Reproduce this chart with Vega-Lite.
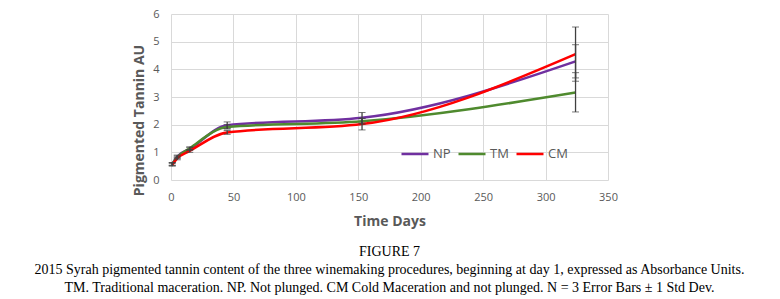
{
  "$schema": "https://vega.github.io/schema/vega-lite/v6.json",
  "width": 437,
  "height": 166,
  "autosize": {"type": "none"},
  "padding": {"left": 171, "top": 14, "right": 172, "bottom": 119},
  "background": "white",
  "title": {
    "text": ["FIGURE 7", "2015 Syrah pigmented tannin content of the three winemaking procedures, beginning at day 1, expressed as Absorbance Units.", "TM. Traditional maceration. NP. Not plunged. CM Cold Maceration and not plunged. N = 3 Error Bars ± 1 Std Dev."],
    "orient": "bottom",
    "anchor": "middle",
    "frame": "group",
    "font": "Liberation Serif",
    "fontSize": 14,
    "fontWeight": "normal",
    "color": "#000000",
    "lineHeight": 18,
    "offset": 17
  },
  "config": {
    "view": {"stroke": null},
    "axis": {
      "gridColor": "#d9d9d9",
      "gridWidth": 1,
      "domain": false,
      "ticks": false,
      "labelColor": "#595959",
      "labelFont": "Open Sans",
      "labelFontSize": 11,
      "labelOverlap": false,
      "labelFlush": false,
      "titleColor": "#595959",
      "titleFont": "Open Sans",
      "titleFontSize": 14,
      "titleFontWeight": "bold"
    }
  },
  "datasets": {
    "pts": [
      {"series": "NP", "day": 1, "value": 0.58, "lo": 0.53, "hi": 0.63},
      {"series": "NP", "day": 5, "value": 0.85, "lo": 0.8, "hi": 0.9},
      {"series": "NP", "day": 15, "value": 1.12, "lo": 1.07, "hi": 1.17},
      {"series": "NP", "day": 45, "value": 1.98, "lo": 1.86, "hi": 2.1},
      {"series": "NP", "day": 153, "value": 2.25, "lo": 2.06, "hi": 2.44},
      {"series": "NP", "day": 324, "value": 4.29, "lo": 3.69, "hi": 4.89},
      {"series": "TM", "day": 1, "value": 0.58, "lo": 0.53, "hi": 0.63},
      {"series": "TM", "day": 5, "value": 0.82, "lo": 0.77, "hi": 0.87},
      {"series": "TM", "day": 15, "value": 1.15, "lo": 1.1, "hi": 1.2},
      {"series": "TM", "day": 45, "value": 1.92, "lo": 1.84, "hi": 2.0},
      {"series": "TM", "day": 153, "value": 2.12, "lo": 2.02, "hi": 2.22},
      {"series": "TM", "day": 324, "value": 3.16, "lo": 2.46, "hi": 3.88},
      {"series": "CM", "day": 1, "value": 0.55, "lo": 0.5, "hi": 0.6},
      {"series": "CM", "day": 5, "value": 0.78, "lo": 0.73, "hi": 0.83},
      {"series": "CM", "day": 15, "value": 1.05, "lo": 1.0, "hi": 1.1},
      {"series": "CM", "day": 45, "value": 1.72, "lo": 1.65, "hi": 1.79},
      {"series": "CM", "day": 153, "value": 2.02, "lo": 1.81, "hi": 2.23},
      {"series": "CM", "day": 324, "value": 4.55, "lo": 3.57, "hi": 5.53}
    ]
  },
  "data": {"name": "pts"},
  "layer": [
    {
      "mark": {"type": "line", "interpolate": "monotone", "strokeWidth": 2.5},
      "encoding": {
        "x": {"field": "day", "type": "quantitative", "title": "Time Days",
              "scale": {"domain": [0, 350], "nice": false},
              "axis": {"values": [0, 50, 100, 150, 200, 250, 300, 350], "labelPadding": 11, "titlePadding": 12}},
        "y": {"field": "value", "type": "quantitative", "title": "Pigmented Tannin AU",
              "scale": {"domain": [0, 6], "nice": false},
              "axis": {"values": [0, 1, 2, 3, 4, 5, 6], "labelPadding": 12, "titlePadding": 6, "titleY": 106}},
        "color": {"field": "series", "type": "nominal",
                  "scale": {"domain": ["NP", "TM", "CM"], "range": ["#7030a0", "#4f8a2e", "#ff0000"]},
                  "legend": {"orient": "none", "legendX": 229, "legendY": 125, "direction": "horizontal", "title": null,
                             "symbolType": "stroke", "symbolSize": 729, "symbolStrokeWidth": 2.5,
                             "labelFont": "Open Sans", "labelFontSize": 13, "labelColor": "#595959",
                             "labelOffset": 3, "columnPadding": 2}},
        "order": {"field": "day"}
      }
    },
    {
      "mark": {"type": "errorbar", "ticks": {"size": 7, "color": "#404040", "strokeWidth": 1.3}, "rule": {"color": "#404040", "strokeWidth": 1.3}},
      "encoding": {
        "x": {"field": "day", "type": "quantitative", "title": "Time Days",
              "scale": {"domain": [0, 350], "nice": false},
              "axis": {"values": [0, 50, 100, 150, 200, 250, 300, 350], "labelPadding": 11, "titlePadding": 12}},
        "y": {"field": "lo", "type": "quantitative", "title": "Pigmented Tannin AU",
              "scale": {"domain": [0, 6], "nice": false},
              "axis": {"values": [0, 1, 2, 3, 4, 5, 6], "labelPadding": 12, "titlePadding": 6, "titleY": 106}},
        "y2": {"field": "hi"}
      }
    }
  ]
}
